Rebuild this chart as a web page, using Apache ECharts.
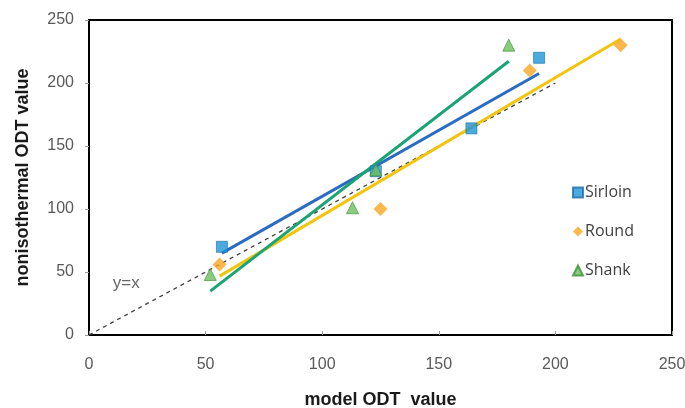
<!DOCTYPE html>
<html>
<head>
<meta charset="utf-8">
<script src="https://cdn.jsdelivr.net/npm/echarts@6/dist/echarts.min.js"></script>
<style>html,body{margin:0;padding:0;background:#fff}#c{width:685px;height:408px}</style>
</head>
<body>
<div id="c"></div>
<script>
var xTicks = [0, 50, 100, 150, 200, 250];
var yTicks = [0, 50, 100, 150, 200, 250];
var sirloinX = [57, 123, 164, 193];
var sirloinY = [70, 130, 164, 220];
var roundX = [56, 125, 189, 228];
var roundY = [56, 100, 210, 230];
var shankX = [52, 113, 123, 180];
var shankY = [48, 101, 131, 230];
var identityLine = [[0, 0], [200, 200]];
var identityLabel = [[16, 41]];

function pairs(xs, ys) { return xs.map(function (x, i) { return [x, ys[i]]; }); }
function fit(xs, ys) {
  var n = xs.length, mx = 0, my = 0;
  for (var i = 0; i < n; i++) { mx += xs[i]; my += ys[i]; }
  mx /= n; my /= n;
  var sxy = 0, sxx = 0;
  for (i = 0; i < n; i++) { sxy += (xs[i] - mx) * (ys[i] - my); sxx += (xs[i] - mx) * (xs[i] - mx); }
  var b = sxy / sxx, a = my - b * mx;
  var x0 = Math.min.apply(null, xs), x1 = Math.max.apply(null, xs);
  return [[x0, a + b * x0], [x1, a + b * x1]];
}

var font = 'Arial, "Liberation Sans", sans-serif';
var chart = echarts.init(document.getElementById('c'), null, { renderer: 'canvas' });
chart.setOption({
  animation: false,
  backgroundColor: '#fff',
  grid: { left: 89, right: 13, top: 20, bottom: 73, outerBoundsMode: 'none', containLabel: false,
    show: true, borderColor: '#000', borderWidth: 2, backgroundColor: 'transparent' },
  legend: {
    orient: 'vertical', left: 567, top: 176, itemGap: 16, itemWidth: 10, itemHeight: 10,
    textStyle: { fontFamily: '"Open Sans", sans-serif', fontSize: 16, color: '#404040', lineHeight: 18, padding: [5, 0, 0, -3] },
    data: [
      { name: 'Sirloin', icon: 'rect' },
      { name: 'Round', icon: 'diamond' },
      { name: 'Shank', icon: 'triangle' }
    ]
  },
  xAxis: {
    type: 'value', min: xTicks[0], max: xTicks[xTicks.length - 1], interval: 50,
    name: 'model ODT  value', nameLocation: 'middle', nameGap: 56,
    nameTextStyle: { fontFamily: font, fontWeight: 'bold', fontSize: 18, color: '#1a1a1a' },
    axisLine: { lineStyle: { color: '#000', width: 2 } },
    axisTick: { inside: true, length: 4, lineStyle: { color: '#999' } },
    axisLabel: { fontFamily: font, fontSize: 16, color: '#595959', margin: 22 },
    splitLine: { show: false }
  },
  yAxis: {
    type: 'value', min: yTicks[0], max: yTicks[yTicks.length - 1], interval: 50,
    name: 'nonisothermal ODT value', nameLocation: 'middle', nameGap: 57, nameRotate: 90,
    nameTextStyle: { fontFamily: font, fontWeight: 'bold', fontSize: 18, color: '#1a1a1a' },
    axisLine: { lineStyle: { color: '#000', width: 2 } },
    axisTick: { length: 4, lineStyle: { color: '#999' } },
    axisLabel: { fontFamily: font, fontSize: 16, color: '#595959', margin: 15 },
    splitLine: { show: false }
  },
  series: [
    { name: 'y=x', type: 'line', data: identityLine, symbol: 'none', silent: true,
      lineStyle: { color: '#404040', width: 1.3, type: [4, 4] }, z: 1 },
    { name: 'label', type: 'scatter', data: identityLabel, symbolSize: 0, silent: true,
      label: { show: true, formatter: 'y=x', position: 'inside', fontFamily: font, fontSize: 17, color: '#404040' } },
    { name: 'SirloinFit', type: 'line', data: fit(sirloinX, sirloinY), symbol: 'none',
      lineStyle: { color: '#2A6CC2', width: 3 }, z: 2 },
    { name: 'RoundFit', type: 'line', data: fit(roundX, roundY), symbol: 'none',
      lineStyle: { color: '#F2C40C', width: 3 }, z: 2 },
    { name: 'ShankFit', type: 'line', data: fit(shankX, shankY), symbol: 'none',
      lineStyle: { color: '#1AA373', width: 3 }, z: 2 },
    { name: 'Sirloin', type: 'scatter', data: pairs(sirloinX, sirloinY), symbol: 'rect', symbolSize: 11,
      itemStyle: { color: '#1E96D8', borderColor: '#1B6FA8', borderWidth: 0.8 }, z: 3 },
    { name: 'Round', type: 'scatter', data: pairs(roundX, roundY), symbol: 'diamond', symbolSize: [14, 14],
      itemStyle: { color: '#F6A623' }, z: 3 },
    { name: 'Shank', type: 'scatter', data: pairs(shankX, shankY), symbol: 'triangle', symbolSize: 12,
      itemStyle: { color: '#6CBF5A', borderColor: '#3E8E3A', borderWidth: 0.8 }, z: 3 }
  ]
});
</script>
</body>
</html>
